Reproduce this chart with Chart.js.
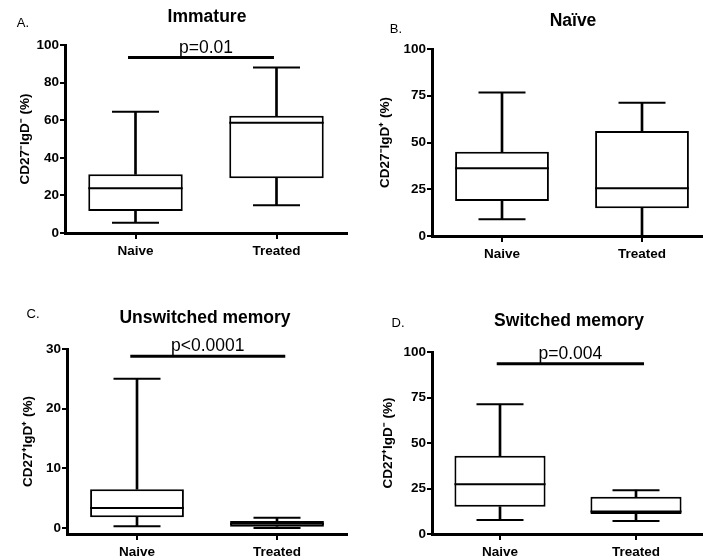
<!DOCTYPE html>
<html><head><meta charset="utf-8">
<script src="https://cdn.jsdelivr.net/npm/chart.js@4.4.1/dist/chart.umd.min.js"></script>
<style>
html,body{margin:0;padding:0;background:#fff;overflow:hidden;width:703px;height:560px;}
#wrap{position:relative;width:703px;height:560px;overflow:hidden;background:#fff;}
canvas{position:absolute;}
.lbl{position:absolute;transform:translate(-50%,-50%);white-space:nowrap;line-height:1;color:#000;font-family:'Liberation Sans',Arial,Helvetica,sans-serif;}
.title{font-weight:bold;font-size:17.5px;}
.letter{font-size:13px;}
</style></head><body><div id="wrap">
<canvas id="cA" width="350" height="270" style="left:0px;top:0px"></canvas>
<canvas id="cB" width="370" height="270" style="left:350px;top:0px"></canvas>
<canvas id="cC" width="350" height="280" style="left:0px;top:280px"></canvas>
<canvas id="cD" width="370" height="280" style="left:350px;top:280px"></canvas>
<div class="lbl letter" style="left:23px;top:22px">A.</div>
<div class="lbl letter" style="left:396px;top:28px">B.</div>
<div class="lbl letter" style="left:33px;top:313px">C.</div>
<div class="lbl letter" style="left:398px;top:322px">D.</div>
<div class="lbl title" style="left:207px;top:17px">Immature</div>
<div class="lbl title" style="left:573px;top:21px">Naïve</div>
<div class="lbl title" style="left:205px;top:318px">Unswitched memory</div>
<div class="lbl title" style="left:569px;top:321px">Switched memory</div>
</div>
<script>
// ---------- data ----------
const categories = ["Naive", "Treated"];

// A. Immature (CD27-IgD-)
const immatureMin    = [5.5, 14.7];
const immatureQ1     = [11.7, 29.1];
const immatureMedian = [23.8, 58.7];
const immatureQ3     = [31.2, 62.4];
const immatureMax    = [64.5, 88.0];
const immatureTicks  = [0, 20, 40, 60, 80, 100];

// B. Naïve (CD27-IgD+)
const naiveMin    = [8.9, 0.0];
const naiveQ1     = [18.7, 14.8];
const naiveMedian = [36.2, 25.5];
const naiveQ3     = [45.1, 56.1];
const naiveMax    = [76.8, 71.3];
const naiveTicks  = [0, 25, 50, 75, 100];

// C. Unswitched memory (CD27+IgD+)
const unswMin    = [0.3, 0.0];
const unswQ1     = [1.8, 0.22];
const unswMedian = [3.35, 0.7];
const unswQ3     = [6.5, 1.17];
const unswMax    = [25.0, 1.72];
const unswTicks  = [0, 10, 20, 30];

// D. Switched memory (CD27+IgD-)
const swMin    = [7.7, 7.1];
const swQ1     = [15.0, 11.0];
const swMedian = [27.4, 12.3];
const swQ3     = [43.0, 20.5];
const swMax    = [71.3, 24.1];
const swTicks  = [0, 25, 50, 75, 100];

// axis lower bounds: [A, B, C, D]
const yAxisMin = [0, 0, -1, 0];

// significance bars: [A, B, C, D]
const pTexts  = ["p=0.01", null, "p<0.0001", "p=0.004"];
const pLevels = [93.3, null, 28.8, 93.6];
const pStarts = [-0.053, null, -0.048, -0.024];
const pEnds   = [0.982, null, 1.059, 1.059];

const yTitles = ["CD27\u207BIgD\u207B (%)", "CD27\u207BIgD\u207A (%)", "CD27\u207AIgD\u207A (%)", "CD27\u207AIgD\u207B (%)"];

// ---------- drawing ----------
const FONT = "'Liberation Sans', Arial, Helvetica, sans-serif";
Chart.defaults.font.family = FONT;
Chart.defaults.color = '#000';
const BOX_FRAC = 0.67;
const CAP_R = 23.5;
const X_H = 24;

const pLabelPlugin = {
  id: 'pLabel',
  afterDatasetsDraw(chart, args, opts) {
    if (!opts || !opts.text) return;
    const meta = chart.getDatasetMeta(0);
    const pts = meta.data;
    if (!pts || pts.length < 2) return;
    const ctx = chart.ctx;
    ctx.save();
    ctx.font = "17.5px " + FONT;
    ctx.fillStyle = '#000';
    ctx.textAlign = 'center';
    ctx.textBaseline = 'alphabetic';
    ctx.fillText(opts.text, (pts[0].x + pts[1].x) / 2 + (opts.dx || 0), pts[0].y - 5);
    ctx.restore();
  }
};

function makeChart(id, idx, d, lay) {
  const boxHalf = ctx => ctx.chart.scales.x.width / categories.length * BOX_FRAC / 2;
  const pointLine = (data, r) => ({
    type: 'line', data, showLine: false, pointStyle: 'line',
    pointRadius: r, pointHoverRadius: r, pointBorderWidth: 2,
    pointBorderColor: '#000', pointBackgroundColor: '#000'
  });
  const datasets = [];
  if (pTexts[idx]) {
    datasets.push({
      type: 'line', xAxisID: 'x2',
      data: [{x: pStarts[idx], y: pLevels[idx]}, {x: pEnds[idx], y: pLevels[idx]}],
      borderColor: '#000', borderWidth: 3, pointRadius: 0, clip: false
    });
  }
  datasets.push(pointLine(d.median, boxHalf));
  datasets.push(pointLine(d.max, CAP_R));
  datasets.push(pointLine(d.min, CAP_R));
  datasets.push({
    type: 'bar', data: d.q1.map((v, i) => [v, d.q3[i]]),
    backgroundColor: '#fff', borderColor: '#000', borderWidth: 2, borderSkipped: false,
    barPercentage: BOX_FRAC, categoryPercentage: 1, grouped: false
  });
  datasets.push({
    type: 'bar', data: d.q3.map((v, i) => [v, d.max[i]]),
    backgroundColor: '#000', borderWidth: 0, barThickness: 2, grouped: false
  });
  datasets.push({
    type: 'bar', data: d.min.map((v, i) => [v, d.q1[i]]),
    backgroundColor: '#000', borderWidth: 0, barThickness: 2, grouped: false
  });

  return new Chart(document.getElementById(id), {
    type: 'bar',
    data: { labels: categories, datasets },
    plugins: [pLabelPlugin],
    options: {
      responsive: false, animation: false, events: [],
      layout: { autoPadding: false, padding: { left: 0, top: lay.padT, right: lay.padR, bottom: lay.padB } },
      plugins: { legend: { display: false }, tooltip: { enabled: false }, pLabel: { text: pTexts[idx], dx: lay.textDx || 0 } },
      scales: {
        x: {
          type: 'category', labels: categories, offset: true,
          grid: { display: true, drawOnChartArea: false, drawTicks: true, tickLength: 6, offset: false, color: '#000', lineWidth: 2 },
          border: { display: true, color: '#000', width: 3 },
          ticks: { font: { size: 13.5, weight: 'bold' }, padding: 4, maxRotation: 0, autoSkip: false, color: '#000' },
          afterFit: s => { s.height = X_H; }
        },
        x2: { type: 'linear', min: -0.5, max: 1.5, offset: false, grid: { offset: false }, display: false },
        y: {
          type: 'linear', min: yAxisMin[idx], max: d.ticks[d.ticks.length - 1],
          afterBuildTicks: s => { s.ticks = d.ticks.map(v => ({ value: v })); },
          grid: { display: true, drawOnChartArea: false, drawTicks: true, tickLength: 5, color: '#000', lineWidth: 2 },
          border: { display: true, color: '#000', width: 3 },
          ticks: { font: { size: 13.5, weight: 'bold' }, padding: 1, color: '#000' },
          title: { display: true, text: yTitles[idx], color: '#000', font: { size: 13.5, weight: 'bold' }, padding: { top: lay.titlePad, bottom: 0 } },
          afterFit: s => { s.width = lay.yW; }
        }
      }
    }
  });
}

makeChart('cA', 0, { min: immatureMin, q1: immatureQ1, median: immatureMedian, q3: immatureQ3, max: immatureMax, ticks: immatureTicks },
  { yW: 65, padT: 45, padR: 3, padB: 13, titlePad: 17, textDx: 5 });
makeChart('cB', 1, { min: naiveMin, q1: naiveQ1, median: naiveMedian, q3: naiveQ3, max: naiveMax, ticks: naiveTicks },
  { yW: 82, padT: 49, padR: 8, padB: 10, titlePad: 27 });
makeChart('cC', 2, { min: unswMin, q1: unswQ1, median: unswMedian, q3: unswQ3, max: unswMax, ticks: unswTicks },
  { yW: 67, padT: 69, padR: 3, padB: 2, titlePad: 20 });
makeChart('cD', 3, { min: swMin, q1: swQ1, median: swMedian, q3: swQ3, max: swMax, ticks: swTicks },
  { yW: 82, padT: 72, padR: 16, padB: 2, titlePad: 30 });
</script>
</body></html>
